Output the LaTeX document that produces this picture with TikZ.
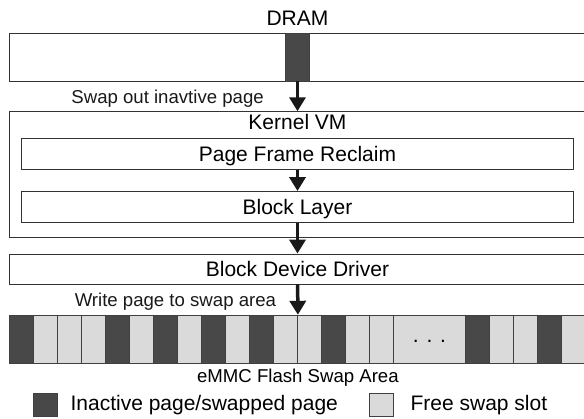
\documentclass[tikz,border=0pt]{standalone}
\usepackage{fontspec}
\setmainfont{Liberation Sans}
\usetikzlibrary{positioning,arrows.meta}
\definecolor{pagedark}{RGB}{72,72,72}
\definecolor{pagefree}{RGB}{218,218,218}

\begin{document}
\begin{tikzpicture}[x=1pt,y=-1pt]
\tikzset{node distance=2cm,
    >={Triangle[width=16pt,length=14pt]},
    block/.style={rectangle, draw=black!80, line width=0.9pt, inner sep=0pt, minimum height=31pt, minimum width=552pt, text height=15pt, text depth=0pt, font=\fontsize{21}{25}\selectfont},
    outer/.style={block, minimum width=576pt},
    slot/.style={rectangle, draw=black!75, line width=0.8pt, inner sep=0pt, minimum width=24pt, minimum height=48pt, fill=pagefree},
    used/.style={slot, fill=pagedark},
    lbl/.style={inner sep=0pt, text height=13.3pt, text depth=0pt, font=\fontsize{18.6}{22}\selectfont},
    hdr/.style={inner sep=0pt, text height=15pt, text depth=0pt, font=\fontsize{21}{25}\selectfont},
    flow/.style={->, line width=3.5pt, black!90}
}
  \useasboundingbox (0,0) rectangle (584,418);
  \clip (0,0) rectangle (584,418);

  \node[outer, minimum height=47.7pt] (dram) at (297.5,57.2) {};
  \node[used, minimum height=47.7pt] (page) at (297.5,57.2) {};
  \node[hdr, above=7pt of dram] (dramlbl) {DRAM};
  \node[outer, minimum height=125.6pt] (kernel) at (297.5,174.5) {};
  \node[hdr, below=3.3pt] (kernlbl) at (kernel.north) {Kernel VM};
  \node[block] (reclaim) at (297.5,153.7) {Page Frame Reclaim};
  \node[block, below of=reclaim, node distance=53.3pt] (blklayer) {Block Layer};
  \node[outer, minimum height=30pt, below of=blklayer, node distance=62pt] (driver) {Block Device Driver};

  % swap area slots
  \foreach \kind [count=\i from 0] in {used,slot,slot,slot,used,slot,used,slot,used,slot,used,slot,slot,used,slot,slot}
    \node[\kind] (s\i) at (21.5+24*\i,339.2) {};
  \node[slot, minimum width=72pt, text height=6pt, font=\fontsize{21}{25}\selectfont] (dots) at (429.5,339.2) {. . .};
  \foreach \kind [count=\i from 19] in {used,slot,slot,used,slot}
    \node[\kind] (s\i) at (21.5+24*\i,339.2) {};
  \node[lbl, below=5.5pt of s11.south east] (swaplbl) {eMMC Flash Swap Area};

  \draw[flow] (page.south) -- node[lbl, left=32pt] {Swap out inavtive page} (kernel.north);
  \draw[flow] (reclaim) -- (blklayer);
  \draw[flow] (blklayer) -- (driver);
  \draw[flow] (driver) -- node[lbl, left=20pt] {Write page to swap area} (s11.north east);

  % legend
  \node[used, minimum height=23.4pt] (legused) at (45.3,405) {};
  \node[hdr, right=12.7pt of legused, yshift=2pt] (legusedlbl) {Inactive page/swapped page};
  \node[slot, minimum height=23.4pt] (legfree) at (381.5,405) {};
  \node[hdr, right=16.5pt of legfree, yshift=2pt] (legfreelbl) {Free swap slot};
\end{tikzpicture}
\end{document}
